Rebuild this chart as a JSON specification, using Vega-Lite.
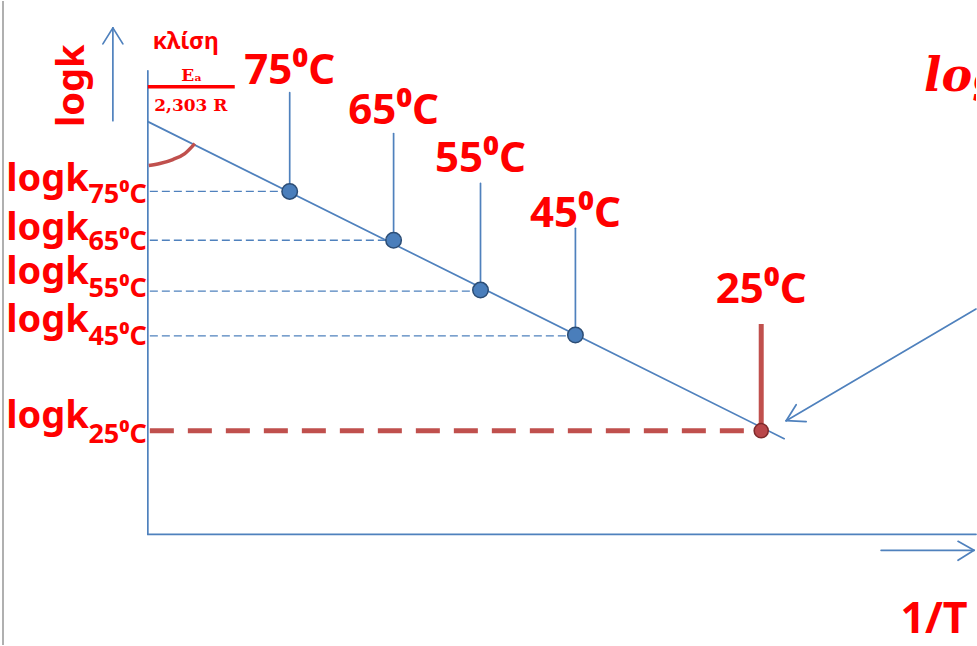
{
  "$schema": "https://vega.github.io/schema/vega-lite/v6.json",
  "width": 977,
  "height": 646,
  "autosize": {"type": "fit", "contains": "padding"},
  "padding": 0,
  "background": "white",
  "config": {"view": {"stroke": null}},
  "datasets": {
    "segments": [
      {"kind": "frame", "x1": 3, "y1": 0, "x2": 3, "y2": 646},
      {"kind": "blue", "x1": 148, "y1": 70, "x2": 148, "y2": 535},
      {"kind": "blue", "x1": 148, "y1": 535, "x2": 977, "y2": 535},
      {"kind": "blue", "x1": 113, "y1": 27, "x2": 113, "y2": 120},
      {"kind": "blue", "x1": 113, "y1": 27, "x2": 103, "y2": 43},
      {"kind": "blue", "x1": 113, "y1": 27, "x2": 123, "y2": 43},
      {"kind": "blue", "x1": 882, "y1": 551, "x2": 975, "y2": 551},
      {"kind": "blue", "x1": 975, "y1": 551, "x2": 959, "y2": 542},
      {"kind": "blue", "x1": 975, "y1": 551, "x2": 959, "y2": 561},
      {"kind": "blue", "x1": 977, "y1": 309, "x2": 787, "y2": 421},
      {"kind": "blue", "x1": 787, "y1": 421, "x2": 807, "y2": 422},
      {"kind": "blue", "x1": 787, "y1": 421, "x2": 797, "y2": 405},
      {"kind": "blue", "x1": 148, "y1": 121, "x2": 785, "y2": 439},
      {"kind": "blue", "x1": 290, "y1": 92, "x2": 290, "y2": 191},
      {"kind": "blue", "x1": 394, "y1": 133, "x2": 394, "y2": 240},
      {"kind": "blue", "x1": 481, "y1": 183, "x2": 481, "y2": 290},
      {"kind": "blue", "x1": 576, "y1": 228, "x2": 576, "y2": 335},
      {"kind": "guide", "x1": 150, "y1": 191, "x2": 289, "y2": 191},
      {"kind": "guide", "x1": 150, "y1": 240, "x2": 393, "y2": 240},
      {"kind": "guide", "x1": 150, "y1": 291, "x2": 481, "y2": 291},
      {"kind": "guide", "x1": 150, "y1": 336, "x2": 576, "y2": 336},
      {"kind": "redstem", "x1": 762, "y1": 324, "x2": 762, "y2": 431},
      {"kind": "reddash", "x1": 150, "y1": 431, "x2": 762, "y2": 431},
      {"kind": "fraction", "x1": 148, "y1": 86, "x2": 235, "y2": 86}
    ],
    "arc": [
      {"i": 1, "x": 149, "y": 165},
      {"i": 2, "x": 160, "y": 163},
      {"i": 3, "x": 173, "y": 159},
      {"i": 4, "x": 185, "y": 153},
      {"i": 5, "x": 195, "y": 143}
    ],
    "points": [
      {"temp": "75", "x": 290, "y": 191, "ref": false},
      {"temp": "65", "x": 394, "y": 240, "ref": false},
      {"temp": "55", "x": 481, "y": 290, "ref": false},
      {"temp": "45", "x": 576, "y": 335, "ref": false},
      {"temp": "25", "x": 762, "y": 431, "ref": true}
    ],
    "templabels": [
      {"label": "75⁰C", "x": 290, "y": 83},
      {"label": "65⁰C", "x": 394, "y": 123},
      {"label": "55⁰C", "x": 481, "y": 172},
      {"label": "45⁰C", "x": 576, "y": 227},
      {"label": "25⁰C", "x": 762, "y": 303}
    ],
    "ylabels": [
      {"main": "logk", "sub": "75⁰C", "y": 191, "ysub": 203},
      {"main": "logk", "sub": "65⁰C", "y": 240, "ysub": 250},
      {"main": "logk", "sub": "55⁰C", "y": 284, "ysub": 297},
      {"main": "logk", "sub": "45⁰C", "y": 332, "ysub": 345},
      {"main": "logk", "sub": "25⁰C", "y": 428, "ysub": 443}
    ]
  },
  "layer": [
    {
      "data": {"name": "segments"},
      "transform": [{"filter": "datum.kind === 'frame'"}],
      "mark": {"type": "rule", "color": "#b0b0b0", "strokeWidth": 2},
      "encoding": {
        "x": {"field": "x1", "type": "quantitative", "scale": {"domain": [0, 977], "nice": false, "zero": false}, "axis": null},
        "y": {"field": "y1", "type": "quantitative", "scale": {"domain": [0, 646], "nice": false, "zero": false, "reverse": true}, "axis": null},
        "x2": {"field": "x2"},
        "y2": {"field": "y2"}
      }
    },
    {
      "data": {"name": "segments"},
      "transform": [{"filter": "datum.kind === 'guide'"}],
      "mark": {"type": "rule", "color": "#4f81bd", "strokeWidth": 1.3, "strokeDash": [8, 4]},
      "encoding": {
        "x": {"field": "x1", "type": "quantitative", "axis": null},
        "y": {"field": "y1", "type": "quantitative", "axis": null},
        "x2": {"field": "x2"},
        "y2": {"field": "y2"}
      }
    },
    {
      "data": {"name": "segments"},
      "transform": [{"filter": "datum.kind === 'reddash'"}],
      "mark": {"type": "rule", "color": "#c0504d", "strokeWidth": 5, "strokeDash": [24, 14]},
      "encoding": {
        "x": {"field": "x1", "type": "quantitative", "axis": null},
        "y": {"field": "y1", "type": "quantitative", "axis": null},
        "x2": {"field": "x2"},
        "y2": {"field": "y2"}
      }
    },
    {
      "data": {"name": "segments"},
      "transform": [{"filter": "datum.kind === 'blue'"}],
      "mark": {"type": "rule", "color": "#4f81bd", "strokeWidth": 1.7, "strokeCap": "round"},
      "encoding": {
        "x": {"field": "x1", "type": "quantitative", "axis": null},
        "y": {"field": "y1", "type": "quantitative", "axis": null},
        "x2": {"field": "x2"},
        "y2": {"field": "y2"}
      }
    },
    {
      "data": {"name": "segments"},
      "transform": [{"filter": "datum.kind === 'redstem'"}],
      "mark": {"type": "rule", "color": "#c0504d", "strokeWidth": 5},
      "encoding": {
        "x": {"field": "x1", "type": "quantitative", "axis": null},
        "y": {"field": "y1", "type": "quantitative", "axis": null},
        "x2": {"field": "x2"},
        "y2": {"field": "y2"}
      }
    },
    {
      "data": {"name": "segments"},
      "transform": [{"filter": "datum.kind === 'fraction'"}],
      "mark": {"type": "rule", "color": "#ff0000", "strokeWidth": 3.5},
      "encoding": {
        "x": {"field": "x1", "type": "quantitative", "axis": null},
        "y": {"field": "y1", "type": "quantitative", "axis": null},
        "x2": {"field": "x2"},
        "y2": {"field": "y2"}
      }
    },
    {
      "data": {"name": "arc"},
      "mark": {"type": "line", "color": "#c0504d", "strokeWidth": 3.5, "interpolate": "monotone"},
      "encoding": {
        "x": {"field": "x", "type": "quantitative", "axis": null},
        "y": {"field": "y", "type": "quantitative", "axis": null},
        "order": {"field": "i", "type": "quantitative"}
      }
    },
    {
      "data": {"name": "points"},
      "transform": [{"filter": "!datum.ref"}],
      "mark": {"type": "point", "filled": true, "fill": "#4a7ebb", "stroke": "#2c4d75", "strokeWidth": 1.5, "size": 240, "opacity": 1},
      "encoding": {
        "x": {"field": "x", "type": "quantitative", "axis": null},
        "y": {"field": "y", "type": "quantitative", "axis": null}
      }
    },
    {
      "data": {"name": "points"},
      "transform": [{"filter": "datum.ref"}],
      "mark": {"type": "point", "filled": true, "fill": "#b9474a", "stroke": "#7f2a2a", "strokeWidth": 1.5, "size": 200, "opacity": 1},
      "encoding": {
        "x": {"field": "x", "type": "quantitative", "axis": null},
        "y": {"field": "y", "type": "quantitative", "axis": null}
      }
    },
    {
      "data": {"name": "templabels"},
      "mark": {"type": "text", "color": "#ff0000", "font": "Noto Sans", "fontWeight": "bold", "fontSize": 42, "align": "center", "baseline": "alphabetic"},
      "encoding": {
        "x": {"field": "x", "type": "quantitative", "axis": null},
        "y": {"field": "y", "type": "quantitative", "axis": null},
        "text": {"field": "label"}
      }
    },
    {
      "data": {"name": "ylabels"},
      "mark": {"type": "text", "color": "#ff0000", "font": "Noto Sans", "fontWeight": "bold", "fontSize": 38, "align": "right", "baseline": "alphabetic"},
      "encoding": {
        "x": {"datum": 89, "type": "quantitative", "axis": null},
        "y": {"field": "y", "type": "quantitative", "axis": null},
        "text": {"field": "main"}
      }
    },
    {
      "data": {"name": "ylabels"},
      "mark": {"type": "text", "color": "#ff0000", "font": "Noto Sans", "fontWeight": "bold", "fontSize": 27, "align": "right", "baseline": "alphabetic"},
      "encoding": {
        "x": {"datum": 147, "type": "quantitative", "axis": null},
        "y": {"field": "ysub", "type": "quantitative", "axis": null},
        "text": {"field": "sub"}
      }
    },
    {
      "data": {"values": [{"t": "logk", "x": 84, "y": 85}]},
      "mark": {"type": "text", "color": "#ff0000", "font": "Noto Sans", "fontWeight": "bold", "fontSize": 38, "align": "center", "baseline": "alphabetic", "angle": 270},
      "encoding": {
        "x": {"field": "x", "type": "quantitative", "axis": null},
        "y": {"field": "y", "type": "quantitative", "axis": null},
        "text": {"field": "t"}
      }
    },
    {
      "data": {"values": [{"t": "κλίση", "x": 186, "y": 48}]},
      "mark": {"type": "text", "color": "#ff0000", "font": "Noto Sans", "fontWeight": "bold", "fontSize": 23, "align": "center", "baseline": "alphabetic"},
      "encoding": {
        "x": {"field": "x", "type": "quantitative", "axis": null},
        "y": {"field": "y", "type": "quantitative", "axis": null},
        "text": {"field": "t"}
      }
    },
    {
      "data": {"values": [{"t": "Eₐ", "x": 192, "y": 80}, {"t": "2,303 R", "x": 191, "y": 110}]},
      "mark": {"type": "text", "color": "#ff0000", "font": "DejaVu Serif", "fontWeight": "bold", "fontSize": 17, "align": "center", "baseline": "alphabetic"},
      "encoding": {
        "x": {"field": "x", "type": "quantitative", "axis": null},
        "y": {"field": "y", "type": "quantitative", "axis": null},
        "text": {"field": "t"}
      }
    },
    {
      "data": {"values": [{"t": "logk", "x": 925, "y": 90}]},
      "mark": {"type": "text", "color": "#ff0000", "font": "DejaVu Serif", "fontWeight": "bold", "fontStyle": "italic", "fontSize": 46, "align": "left", "baseline": "alphabetic", "clip": true},
      "encoding": {
        "x": {"field": "x", "type": "quantitative", "axis": null},
        "y": {"field": "y", "type": "quantitative", "axis": null},
        "text": {"field": "t"}
      }
    },
    {
      "data": {"values": [{"t": "1/T", "x": 935, "y": 634}]},
      "mark": {"type": "text", "color": "#ff0000", "font": "Noto Sans", "fontWeight": "bold", "fontSize": 43, "align": "center", "baseline": "alphabetic"},
      "encoding": {
        "x": {"field": "x", "type": "quantitative", "axis": null},
        "y": {"field": "y", "type": "quantitative", "axis": null},
        "text": {"field": "t"}
      }
    }
  ]
}
